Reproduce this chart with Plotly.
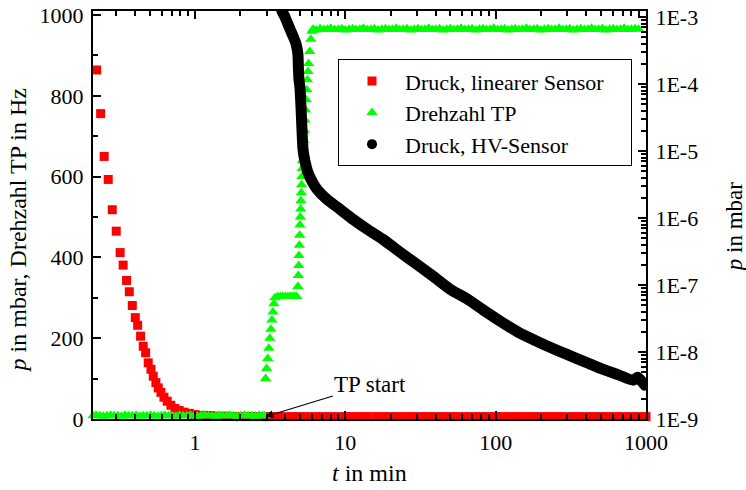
import plotly.graph_objects as go

# ---------------- data ----------------
# Druck, linearer Sensor  (t in min, p in mbar) -> left axis
t_lin = [0.222, 0.236, 0.249, 0.265, 0.282, 0.2995, 0.318, 0.333, 0.351, 0.366,
         0.383, 0.401, 0.416, 0.435, 0.453, 0.470, 0.489, 0.510, 0.528, 0.550,
         0.570, 0.594, 0.622, 0.654, 0.692, 0.736, 0.786, 0.845, 0.917, 1.0,
         1.11, 1.26, 1.4, 1.6, 1.8, 2.0, 2.2, 2.5, 2.8, 3.0, 3.2, 3.6, 4.0, 4.5,
         5.0, 5.6, 6.3, 7.1, 8.0, 9.0, 10, 11, 12.5, 14, 16, 18, 20, 22, 25,
         28, 32, 36, 40, 45, 50, 56, 63, 71, 80, 90, 100, 110, 125, 140, 160,
         180, 200, 220, 250, 280, 320, 360, 400, 450, 500, 560, 630, 710, 800,
         900, 1000]
p_lin = [864, 756, 650, 593, 518, 465, 412, 381, 343, 315,
         281, 251, 232, 205, 180, 164, 139, 123, 106, 90,
         77, 66, 54, 44, 34, 26, 21, 17, 14, 11,
         9, 8.7, 7, 7, 6, 6, 6, 6, 6, 6, 6, 6, 6, 6,
         6, 6, 6, 6, 6, 6, 6, 6, 6, 6, 6, 6, 6, 6, 6,
         6, 6, 6, 6, 6, 6, 6, 6, 6, 6, 6, 6, 6, 6, 6, 6,
         6, 6, 6, 6, 6, 6, 6, 6, 6, 6, 6, 6, 6, 6,
         6, 6]

# Drehzahl TP (t in min, f in Hz) -> left axis
t_tp = [0.21, 0.22, 0.233, 0.246, 0.26, 0.275, 0.29, 0.307, 0.325, 0.343,
        0.363, 0.384, 0.406, 0.429, 0.453, 0.479, 0.506, 0.535, 0.566, 0.598,
        0.632, 0.668, 0.706, 0.747, 0.789, 0.834, 0.882, 0.932, 0.985, 1.04,
        1.1, 1.16, 1.23, 1.3, 1.37, 1.45, 1.53, 1.62, 1.71, 1.81, 1.91, 2.02,
        2.14, 2.26, 2.39, 2.52, 2.67, 2.82, 2.9,
        2.95, 3.0, 3.05, 3.1, 3.15, 3.2, 3.25, 3.3, 3.35, 3.4, 3.55, 3.7, 3.85,
        4.0, 4.15, 4.3, 4.45, 4.6, 4.75, 4.84, 4.87, 4.9, 4.92, 4.95, 4.97,
        5.0, 5.02, 5.05, 5.07, 5.1, 5.12, 5.15, 5.17, 5.2, 5.25, 5.3, 5.35,
        5.4, 5.45, 5.5, 5.55, 5.6, 5.65, 5.7, 5.8, 5.9, 6.0,
        6.1, 6.4, 6.8, 7.2, 7.6, 8.0, 8.5, 9.0, 9.5, 10, 10.6, 11.2, 11.8,
        12.5, 13.2, 14, 14.8, 15.6, 16.5, 17.5, 18.5, 19.5, 20.6, 21.8, 23,
        24.3, 25.7, 27.2, 28.7, 30.4, 32.1, 33.9, 35.9, 37.9, 40, 42.3, 44.7,
        47.3, 50, 52.8, 55.8, 59, 62.4, 65.9, 69.7, 73.7, 77.9, 82.3, 87, 92,
        97.2, 103, 109, 115, 121, 128, 135, 143, 151, 160, 169, 179, 189, 200,
        211, 223, 236, 249, 264, 279, 295, 311, 329, 348, 368, 389, 411, 434,
        459, 485, 513, 542, 573, 606, 640, 677, 715, 756, 799, 845, 893, 944,
        998]
f_tp = [8, 9, 8, 7, 8, 9, 8, 8, 7, 9,
        8, 8, 9, 7, 8, 8, 9, 8, 7, 8,
        9, 8, 8, 7, 9, 8, 8, 9, 8, 7,
        8, 9, 8, 8, 7, 9, 8, 8, 9, 8, 7, 8,
        9, 8, 8, 7, 9, 8, 8,
        100, 125, 150, 175, 200, 222, 245, 265, 285, 300, 303, 303, 303,
        303, 303, 303, 303, 303, 303, 328, 355, 380, 405, 430, 455,
        480, 500, 520, 540, 560, 580, 600, 620, 640, 665, 690, 715,
        740, 765, 790, 815, 840, 860, 880, 910, 940, 960,
        965, 963, 966, 964, 965, 967, 964, 965, 966, 963, 965, 966, 964,
        965, 967, 964, 965, 966, 963, 965, 966, 964, 965, 967, 964,
        965, 966, 963, 965, 966, 964, 965, 967, 964, 965, 966, 963,
        965, 966, 964, 965, 967, 964, 965, 966, 963, 965, 966, 964, 965,
        967, 964, 965, 966, 963, 965, 966, 964, 965, 967, 964, 965, 966, 963,
        965, 966, 964, 965, 967, 964, 965, 966, 963, 965, 966, 964, 965,
        967, 964, 965, 966, 963, 965, 966, 964, 965, 967, 964, 965, 966,
        965]

# Druck, HV-Sensor (t in min, p in mbar) -> right (log) axis
t_hv = [3.7, 3.79, 3.97, 4.29, 4.49, 4.70, 4.84, 4.88, 4.92, 5.0, 5.08, 5.16,
        5.23, 5.39, 5.64, 6.0, 6.47, 7.55, 9.23, 11.3, 14.0, 17.8, 23.1, 29.9,
        38.4, 49.6, 64.6, 82, 107, 140, 197, 298, 400, 497, 650, 823, 880,
        983, 1000]
p_hv = [1.6e-3, 1.23e-3, 1.0e-3, 6.6e-4, 5.2e-4, 4.0e-4, 2.8e-4, 1.66e-4,
        1.17e-4, 8.5e-5, 4.3e-5, 1.9e-5, 1.07e-5, 7.1e-6, 4.8e-6, 3.55e-6,
        2.7e-6, 1.9e-6, 1.35e-6, 9.5e-7, 6.8e-7, 4.8e-7, 3.1e-7, 2.04e-7,
        1.35e-7, 8.7e-8, 6.2e-8, 4.3e-8, 2.9e-8, 2.0e-8, 1.38e-8, 9.2e-9,
        7.0e-9, 5.7e-9, 4.6e-9, 3.8e-9, 4.2e-9, 3.2e-9, 3.15e-9]

names = ["Druck, linearer Sensor", "Drehzahl TP", "Druck, HV-Sensor"]
x_ticks = [1, 10, 100, 1000]
y_ticks = [0, 200, 400, 600, 800, 1000]
y2_ticks = [1e-9, 1e-8, 1e-7, 1e-6, 1e-5, 1e-4, 1e-3]
y2_text = ["1E-9", "1E-8", "1E-7", "1E-6", "1E-5", "1E-4", "1E-3"]

FONT = "Liberation Serif"
PAD = "\u00a0" * 4  # right padding inside the legend box

fig = go.Figure()
fig.add_trace(go.Scatter(x=t_lin, y=p_lin, mode="markers", name=names[0] + PAD,
                         marker=dict(symbol="square", size=9, color="#ff0000"),
                         yaxis="y", cliponaxis=False))
fig.add_trace(go.Scatter(x=t_tp, y=f_tp, mode="markers", name=names[1],
                         marker=dict(symbol="triangle-up", size=10, color="#00ff00"),
                         yaxis="y", cliponaxis=False))
fig.add_trace(go.Scatter(x=t_hv, y=p_hv, mode="lines", showlegend=False,
                         line=dict(color="black", width=11, shape="spline", smoothing=0.6),
                         yaxis="y2"))
fig.add_trace(go.Scatter(x=t_hv, y=p_hv, mode="markers", name=names[2],
                         marker=dict(symbol="circle", size=10, color="black"),
                         yaxis="y2"))

minor_x = [m * 10 ** e for e in range(-1, 3) for m in range(2, 10) if 0.2 < m * 10 ** e < 1000]
minor_y2 = [m * 10 ** e for e in range(-9, -3) for m in range(2, 10)]

axis_common = dict(showline=True, linecolor="black", linewidth=2, ticks="inside",
                   tickcolor="black", tickwidth=1.5, ticklen=8, showgrid=False,
                   zeroline=False, automargin=False, ticklabelstandoff=3,
                   tickfont=dict(family=FONT, size=22, color="black"))

fig.update_layout(
    width=746, height=490,
    margin=dict(l=93, r=100, t=11, b=71, autoexpand=False),
    paper_bgcolor="white", plot_bgcolor="white",
    font=dict(family=FONT, size=22, color="black"),
    xaxis=dict(type="log", range=[-0.678, 3.0], tickvals=x_ticks,
               ticktext=[str(v) for v in x_ticks], mirror="ticks",
               minor=dict(ticks="inside", ticklen=5, tickwidth=1.5, tickcolor="black",
                          tickvals=minor_x, showgrid=False),
               **axis_common),
    yaxis=dict(range=[0, 1010], tickvals=y_ticks,
               minor=dict(ticks="inside", ticklen=5, tickwidth=1.5, tickcolor="black",
                          dtick=100, showgrid=False),
               **axis_common),
    yaxis2=dict(type="log", range=[-9, -2.91], overlaying="y", side="right",
                tickvals=y2_ticks, ticktext=y2_text,
                minor=dict(ticks="inside", ticklen=5, tickwidth=1.5, tickcolor="black",
                           tickvals=minor_y2, showgrid=False),
                **axis_common),
    legend=dict(x=0.9747, y=0.882, xanchor="right", yanchor="top",
                bgcolor="white", bordercolor="black", borderwidth=1,
                font=dict(family=FONT, size=22, color="black"),
                itemwidth=56, tracegroupgap=0),
    showlegend=True,
)

fig.add_annotation(xref="paper", yref="paper", x=-0.135, y=0.463, textangle=-90,
                   text="<i>p</i> in mbar, Drehzahl TP in Hz", showarrow=False,
                   font=dict(family=FONT, size=24), xanchor="center", yanchor="middle")
fig.add_annotation(xref="paper", yref="paper", x=1.159, y=0.47, textangle=-90,
                   text="<i>p</i> in mbar", showarrow=False,
                   font=dict(family=FONT, size=23), xanchor="center", yanchor="middle")
fig.add_annotation(xref="paper", yref="paper", x=0.5, y=-0.132,
                   text="<i>t</i> in min", showarrow=False,
                   font=dict(family=FONT, size=24), xanchor="center", yanchor="middle")
fig.add_annotation(x=0.4685, y=6, xref="x", yref="y", text="TP start",
                   showarrow=True, arrowhead=2, arrowsize=1.3, arrowwidth=1.2,
                   arrowcolor="black", ax=105, ay=-32,
                   font=dict(family=FONT, size=23))

fig.write_html("out.html")
